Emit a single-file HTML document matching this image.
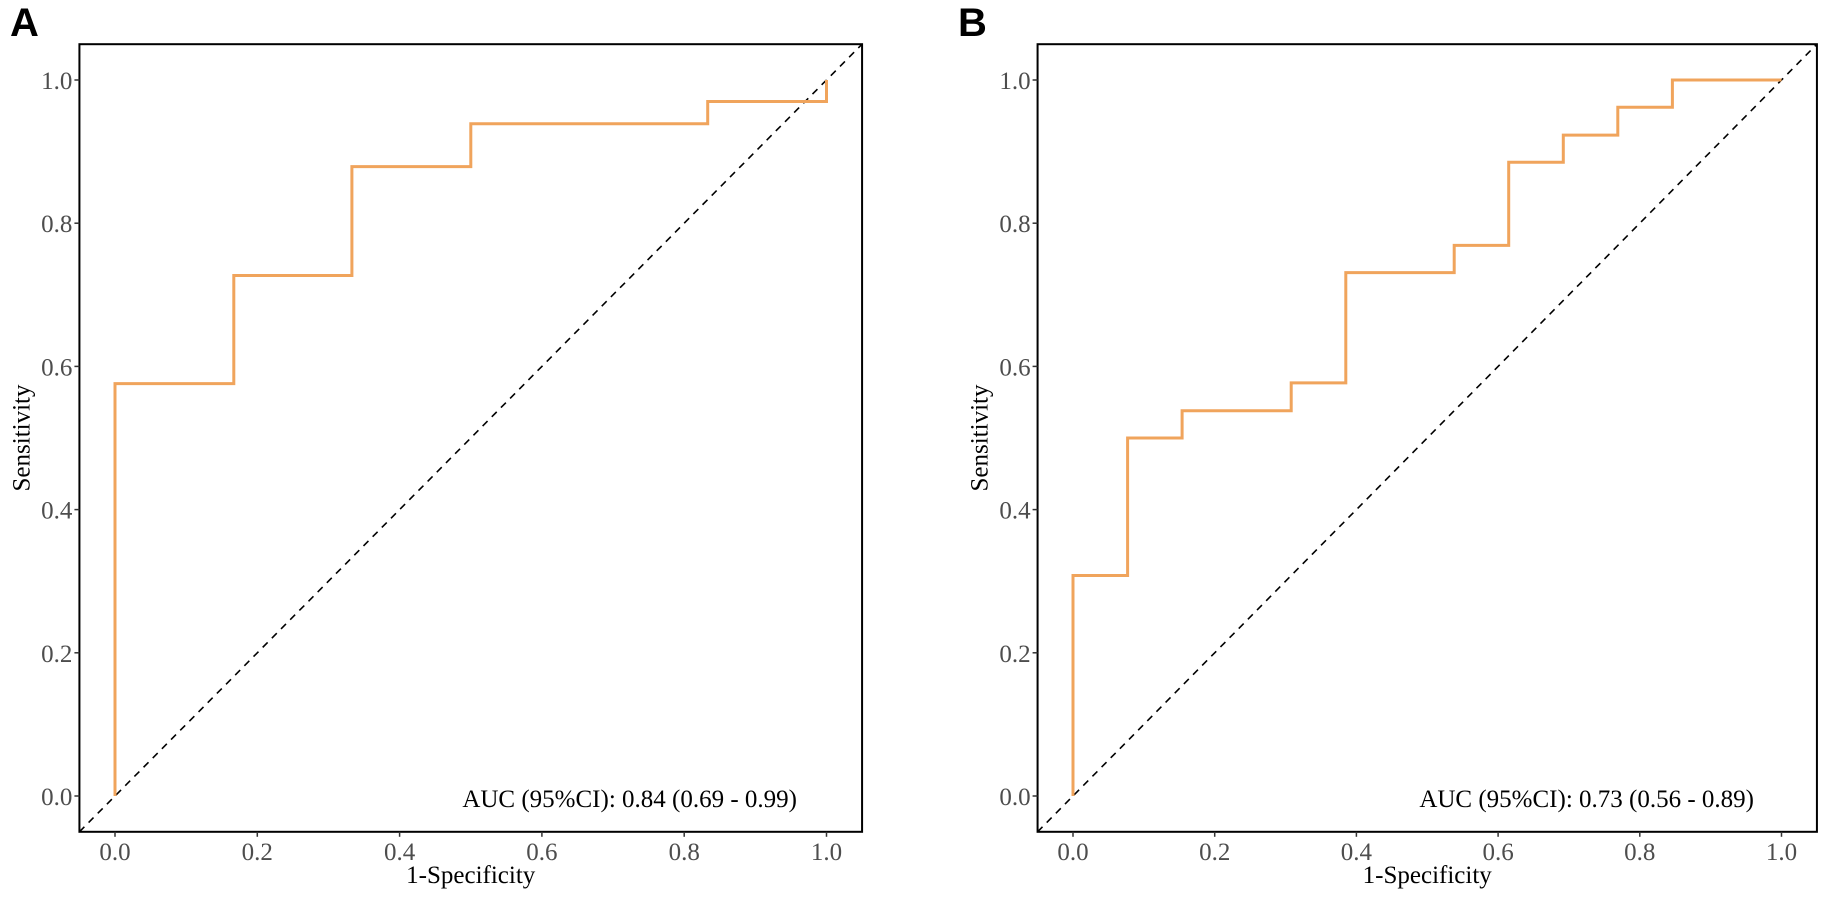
<!DOCTYPE html>
<html><head><meta charset="utf-8"><style>
body{margin:0;background:#fff;}
svg{display:block;}
</style></head><body>
<svg id="fig" width="1831" height="904" xmlns="http://www.w3.org/2000/svg"></svg>
<script>
const ticks=[0,0.2,0.4,0.6,0.8,1.0];
const tickLabels=["0.0","0.2","0.4","0.6","0.8","1.0"];
const fprA=[0,0,0.167,0.167,0.333,0.333,0.5,0.5,0.833,0.833,1,1];
const tprA=[0,0.576,0.576,0.727,0.727,0.879,0.879,0.939,0.939,0.970,0.970,1];
const fprB=[0,0,0.077,0.077,0.154,0.154,0.308,0.308,0.385,0.385,0.538,0.538,0.615,0.615,0.692,0.692,0.769,0.769,0.846,0.846,1];
const tprB=[0,0.308,0.308,0.5,0.5,0.538,0.538,0.577,0.577,0.731,0.731,0.769,0.769,0.885,0.885,0.923,0.923,0.962,0.962,1,1];
const aucA="AUC (95%CI): 0.84 (0.69 - 0.99)";
const aucB="AUC (95%CI): 0.73 (0.56 - 0.89)";
const NS="http://www.w3.org/2000/svg";
const svg=document.getElementById('fig');
function mk(tag,attrs,parent,text){const e=document.createElementNS(NS,tag);for(const k in attrs)e.setAttribute(k,attrs[k]);if(text!==undefined)e.textContent=text;(parent||svg).appendChild(e);return e;}
function panel(id,letter,letterX,x0,unit,fpr,tpr,auc,aucRight){
  const y0=796,yu=716;
  const X=v=>x0+v*unit, Y=v=>y0-v*yu;
  const g=mk('g',{});
  
  
  const L=mk('text',{x:letterX,y:36,'font-family':'Liberation Sans, sans-serif','font-weight':'bold','font-size':'40'},g,letter);
  
  
  const left=X(-0.05),right=X(1.05),top=Y(1.05),bot=Y(-0.05);
  const box=mk('rect',{x:left,y:top,width:right-left,height:bot-top,fill:'#fff',stroke:'#000','stroke-width':2},g);
  
  
  const diag=mk('line',{x1:left,y1:bot,x2:right,y2:top,stroke:'#000','stroke-width':1.6,'stroke-dasharray':'7,6'},g);
  
  
  let d='';
  for(let i=0;i<fpr.length;i++)d+=(i?'L':'M')+X(fpr[i]).toFixed(1)+','+Y(tpr[i]).toFixed(1);
  const p=mk('path',{d:d,fill:'none',stroke:'#f0a45c','stroke-width':3},g);
  
  
  ticks.forEach((t,i)=>{
    mk('line',{x1:X(t),y1:bot,x2:X(t),y2:bot+5,stroke:'#333','stroke-width':1.5},g);
    const tx=mk('text',{x:X(t),y:bot+28,'text-anchor':'middle','font-family':'Liberation Serif, serif','font-size':'25',fill:'#4d4d4d'},g,tickLabels[i]);
    
    
    mk('line',{x1:left-5,y1:Y(t),x2:left,y2:Y(t),stroke:'#333','stroke-width':1.5},g);
    const ty=mk('text',{x:left-7,y:Y(t)+9,'text-anchor':'end','font-family':'Liberation Serif, serif','font-size':'25',fill:'#4d4d4d'},g,tickLabels[i]);
    
    
  });
  const xt=mk('text',{x:(left+right)/2,y:883,'text-anchor':'middle','font-family':'Liberation Serif, serif','font-size':'25'},g,'1-Specificity');
  
  
  const yx=left-50,yy=(top+bot)/2;
  const yt=mk('text',{x:yx,y:yy,'text-anchor':'middle','font-family':'Liberation Serif, serif','font-size':'25',transform:`rotate(-90 ${yx} ${yy})`},g,'Sensitivity');
  
  
  const at=mk('text',{x:aucRight,y:807,'text-anchor':'end','font-family':'Liberation Serif, serif','font-size':'25'},g,auc);
  
  
}
panel('a','A',10,115,711.5,fprA,tprA,aucA,797);
panel('b','B',958,1073,708.5,fprB,tprB,aucB,1754);
</script>
</body></html>
